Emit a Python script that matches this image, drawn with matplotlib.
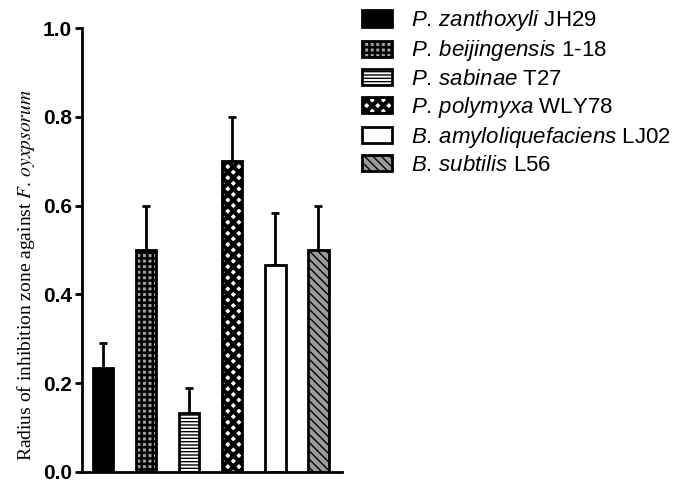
import matplotlib
matplotlib.use("Agg")
from matplotlib import pyplot as plt
import numpy as np

# data
strains = ["P. zanthoxyli", "P. beijingensis", "P. sabinae",
           "P. polymyxa", "B. amyloliquefaciens", "B. subtilis"]
codes = ["JH29", "1-18", "T27", "WLY78", "LJ02", "L56"]
means = [0.233, 0.500, 0.133, 0.700, 0.467, 0.500]
errs = [0.057, 0.100, 0.057, 0.100, 0.117, 0.100]

faces = ["black", "#a0a0a0", "white", "white", "white", "#9a9a9a"]
hatches = [None, "+++", "-----", "xxx", None, "\\\\\\\\"]
hatch_lw = [1.0, 1.8, 1.0, 3.0, 1.0, 1.0]

plt.rcParams["mathtext.fontset"] = "custom"
plt.rcParams["mathtext.rm"] = "Liberation Sans"
plt.rcParams["mathtext.it"] = "Liberation Sans:italic"
plt.rcParams["hatch.linewidth"] = 1.0

fig = plt.figure(figsize=(6.87, 4.84), dpi=100)
ax = fig.add_axes([0.119, 0.025, 0.379, 0.917])

x = np.arange(len(means))
bars = []
for i in range(len(means)):
    lab = r"$\it{" + strains[i].replace(" ", r"\,") + "}$ " + codes[i]
    b = ax.bar(x[i], means[i], width=0.47, color=faces[i], edgecolor="black",
               linewidth=2, hatch=hatches[i], zorder=2, label=lab)
    for p in b:
        if hasattr(p, "set_hatch_linewidth"):
            p.set_hatch_linewidth(hatch_lw[i])
    bars.append(b)

ax.errorbar(x, means, yerr=[np.zeros(len(errs)), errs], fmt="none",
            ecolor="black", elinewidth=2, capsize=3, capthick=2, zorder=1)

ax.set_xlim(-0.5, 5.55)
ax.set_ylim(0, 1.0)
ax.set_yticks([0.0, 0.2, 0.4, 0.6, 0.8, 1.0])
ax.set_yticklabels(["0.0", "0.2", "0.4", "0.6", "0.8", "1.0"],
                   fontfamily="Liberation Sans", fontweight="bold", fontsize=15)
ax.set_xticks([])
ax.spines["top"].set_visible(False)
ax.spines["right"].set_visible(False)
ax.spines["left"].set_linewidth(2)
ax.spines["bottom"].set_linewidth(2)
ax.tick_params(axis="y", width=2, length=5, pad=2)

ax.set_ylabel(r"Radius of inhibition zone against $\it{F.\,oyxpsorum}$",
              fontfamily="Liberation Serif", fontsize=14, math_fontfamily="stix")
ax.yaxis.set_label_coords(-0.17, 0.444)

leg = fig.legend(handles=bars, loc="upper left",
                 bbox_to_anchor=(0.505, 1.015), frameon=False,
                 prop={"family": "Liberation Sans", "size": 16},
                 handlelength=1.35, handleheight=0.75, handletextpad=0.85,
                 labelspacing=0.23, borderaxespad=0.3)
for i, p in enumerate(leg.get_patches()):
    p.set_linewidth(2)
    if hasattr(p, "set_hatch_linewidth"):
        p.set_hatch_linewidth(hatch_lw[i])

plt.savefig("out.png", dpi=100)
